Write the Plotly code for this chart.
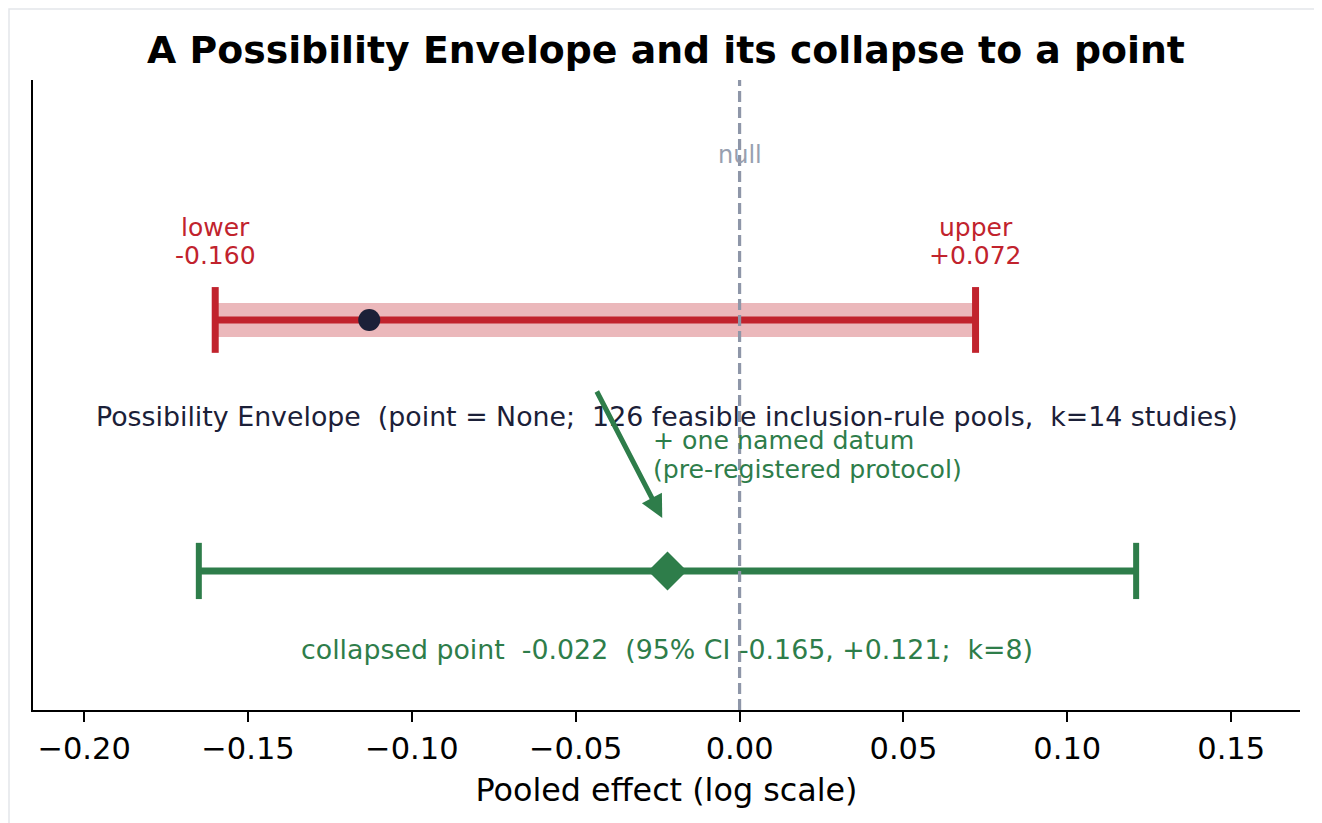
import plotly.graph_objects as go

# ---- data ----
env_lower = -0.160
env_upper = 0.072
env_point = -0.113
col_point = -0.022
col_lo = -0.165
col_hi = 0.121
null_value = 0.0
row_y = {"envelope": 1.0, "collapsed": 0.0}
tick_vals = [-0.20, -0.15, -0.10, -0.05, 0.00, 0.05, 0.10, 0.15]
tick_text = ["\u22120.20", "\u22120.15", "\u22120.10", "\u22120.05", "0.00", "0.05", "0.10", "0.15"]
arrow_from = (-0.0438, 0.721)
arrow_to = (-0.0236, 0.211)

RED = "#c1232d"
RED_BAND = "rgba(193,35,45,0.32)"
GREEN = "#2e7d4a"
NAVY = "#1b2038"
GRAY = "#8e96a8"
FONT = "DejaVu Sans"

ey = row_y["envelope"]
cy = row_y["collapsed"]

ML, MR, MT, MB = 25, 30, 72, 121
PW = 1322 - ML - MR
PH = 823 - MT - MB

fig = go.Figure()

# envelope line
fig.add_trace(go.Scatter(x=[env_lower, env_upper], y=[ey, ey], mode="lines",
                         line=dict(color=RED, width=7), hoverinfo="skip"))
# envelope caps
for xv in (env_lower, env_upper):
    fig.add_trace(go.Scatter(x=[xv, xv], y=[ey - 0.131, ey + 0.131], mode="lines",
                             line=dict(color=RED, width=7), hoverinfo="skip"))
# envelope dot
fig.add_trace(go.Scatter(x=[env_point], y=[ey], mode="markers",
                         marker=dict(color=NAVY, size=22, line=dict(width=0))))

# collapsed line
fig.add_trace(go.Scatter(x=[col_lo, col_hi], y=[cy, cy], mode="lines",
                         line=dict(color=GREEN, width=7), hoverinfo="skip"))
for xv in (col_lo, col_hi):
    fig.add_trace(go.Scatter(x=[xv, xv], y=[cy - 0.112, cy + 0.112], mode="lines",
                             line=dict(color=GREEN, width=6), hoverinfo="skip"))
fig.add_trace(go.Scatter(x=[col_point], y=[cy], mode="markers",
                         marker=dict(color=GREEN, size=30, symbol="diamond", line=dict(width=0))))

shapes = [
    # band
    dict(type="rect", xref="x", yref="y", x0=env_lower, x1=env_upper,
         y0=ey - 0.068, y1=ey + 0.068, fillcolor=RED_BAND, line=dict(width=0), layer="below"),
    # null line
    dict(type="line", xref="x", yref="paper", x0=null_value, x1=null_value, y0=0, y1=1,
         line=dict(color=GRAY, width=3.2, dash="11px,5px"), layer="above"),
    # outer frame
    dict(type="rect", xref="paper", yref="paper",
         x0=(-ML + 1) / PW, x1=1 + (MR - 1) / PW, y0=-(MB - 1) / PH, y1=1 + (MT - 1) / PH,
         line=dict(color="#e3e6ea", width=1.5), fillcolor="rgba(0,0,0,0)"),
]


def txt(x, y, s, size, color, xref="x", **kw):
    d = dict(x=x, y=y, xref=xref, yref="y", text=s, showarrow=False,
             font=dict(family=FONT, size=size, color=color))
    d.update(kw)
    return d


annotations = [
    txt(null_value, 1.657, "null", 24, "#98a0b0"),
    txt(env_lower, 1.3665, "lower", 25, RED),
    txt(env_lower, 1.255, "%.3f" % env_lower, 25, RED),
    txt(env_upper, 1.3665, "upper", 25, RED),
    txt(env_upper, 1.255, "%+.3f" % env_upper, 25, RED),
    txt(0.5, 0.614,
        "Possibility Envelope  (point = None;  126 feasible inclusion-rule pools,  k=14 studies)",
        26.8, NAVY, xref="paper"),
    txt(-0.027, 0.518, "+ one named datum", 25.2, GREEN, xanchor="left"),
    txt(-0.027, 0.406, "(pre-registered protocol)", 25.2, GREEN, xanchor="left"),
    txt(0.5, -0.311, "collapsed point  -0.022  (95% CI -0.165, +0.121;  k=8)",
        26.8, GREEN, xref="paper"),
    dict(x=arrow_to[0], y=arrow_to[1], ax=arrow_from[0], ay=arrow_from[1],
         xref="x", yref="y", axref="x", ayref="y", text="", showarrow=True,
         arrowhead=2, arrowsize=0.9, arrowwidth=5, arrowcolor=GREEN),
]

fig.update_layout(
    width=1322, height=823,
    margin=dict(l=ML, r=MR, t=MT, b=MB),
    paper_bgcolor="white", plot_bgcolor="white",
    showlegend=False,
    title=dict(text="<b>A Possibility Envelope and its collapse to a point</b>",
               x=(666 - 8) / 1322, xanchor="center", y=1 - 42 / 823, yanchor="middle", yref="container",
               font=dict(family=FONT, size=37.8, color="black")),
    shapes=shapes,
    annotations=annotations,
    xaxis=dict(range=[-0.2156, 0.171], tickvals=tick_vals, ticktext=tick_text,
               showgrid=False, zeroline=False, showline=True, linecolor="black", linewidth=2,
               ticks="outside", ticklen=10, tickwidth=2, tickcolor="black",
               tickfont=dict(family=FONT, size=30.5, color="black"),
               title=dict(text="Pooled effect (log scale)", standoff=14,
                          font=dict(family=FONT, size=31.8, color="black"))),
    yaxis=dict(range=[-0.554, 1.956], showgrid=False, zeroline=False, showticklabels=False,
               showline=True, linecolor="black", linewidth=2, ticks=""),
)

fig.write_html("out.html")
